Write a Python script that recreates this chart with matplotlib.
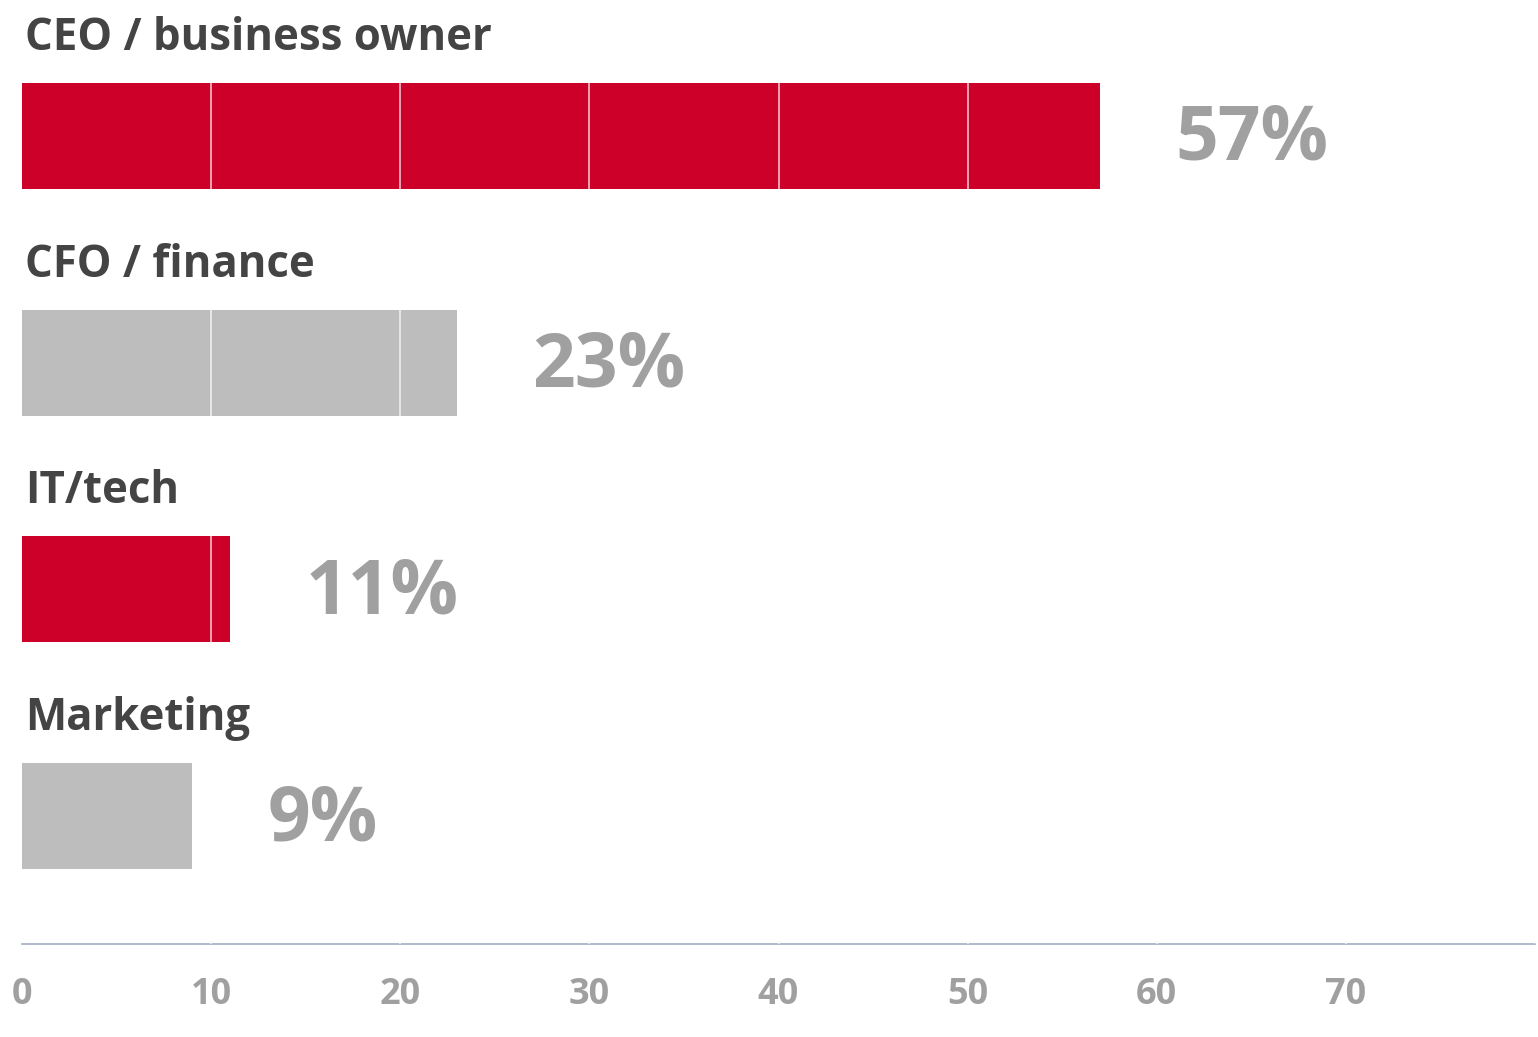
import matplotlib
matplotlib.use("Agg")
import matplotlib.pyplot as plt

categories = ["CEO / business owner", "CFO / finance", "IT/tech", "Marketing"]
values = [57, 23, 11, 9]
bar_colors = ["#cc0029", "#bdbdbd", "#cc0029", "#bdbdbd"]
ticks = [0, 10, 20, 30, 40, 50, 60, 70]

FONT = ["Open Sans", "DejaVu Sans"]

fig = plt.figure(figsize=(15.38, 10.37), dpi=100)
ax = fig.add_axes([22/1538, (1037-944)/1037, (1535-22)/1538, 944/1037])

ypos = list(range(len(categories)))
ax.barh(ypos, values, height=0.467, color=bar_colors, zorder=1)
ax.set_xlim(0, 80)
ax.set_ylim(3.564, -0.599)

for x in ticks[1:] + [80]:
    ax.axvline(x, color="white", alpha=0.75, lw=1.2, zorder=3)

for y, cat, v in zip(ypos, categories, values):
    ax.text(0.15, y - 0.43, cat, fontsize=31.5, fontweight="bold", color="#444444",
            va="center", ha="left", family=FONT)
    ax.text(v + 4.0, y + 0.02, f"{v}%", fontsize=54, fontweight="bold", color="#a0a0a0",
            va="center", ha="left", family=FONT)

for s in ["top", "right", "left"]:
    ax.spines[s].set_visible(False)
ax.spines["bottom"].set_color("#a9b4c8")
ax.spines["bottom"].set_linewidth(1.3)
ax.spines["bottom"].set_zorder(2)
ax.set_yticks([])
ax.set_xticks(ticks)
ax.set_xticklabels([str(t) for t in ticks])
ax.tick_params(axis="x", length=0, pad=24, labelsize=26, labelcolor="#a0a0a0")
for lab in ax.get_xticklabels():
    lab.set_fontweight("bold")
    lab.set_family(FONT)

fig.savefig("out.png", dpi=100, facecolor="white")
